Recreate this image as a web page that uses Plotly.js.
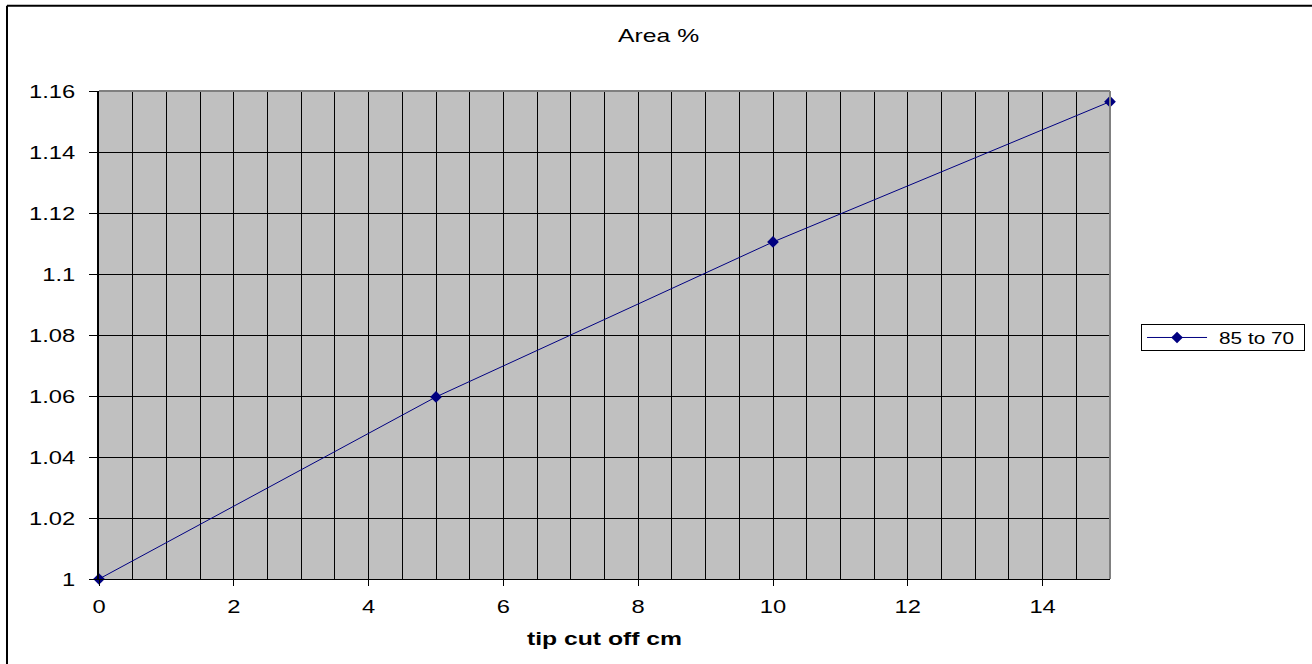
<!DOCTYPE html>
<html>
<head>
<meta charset="utf-8">
<script src="https://cdn.plot.ly/plotly-3.0.1.min.js"></script>
<style>
  html, body { margin: 0; padding: 0; background: #ffffff; }
  #chart { width: 1312px; height: 664px; }
</style>
</head>
<body>
<div id="chart"></div>
<script>
const seriesName = "85 to 70";
const tipCut = [0, 5, 10, 15];
const areaPct = [1.0, 1.0597, 1.1105, 1.1565];
const yTickVals = [1, 1.02, 1.04, 1.06, 1.08, 1.1, 1.12, 1.14, 1.16];
const yTickText = ["1", "1.02", "1.04", "1.06", "1.08", "1.1", "1.12", "1.14", "1.16"];
const xTickVals = [0, 2, 4, 6, 8, 10, 12, 14];
const xTickText = ["0", "2", "4", "6", "8", "10", "12", "14"];

const font = "Liberation Sans, Arial, sans-serif";

const trace = {
  x: tipCut,
  y: areaPct,
  name: seriesName,
  type: "scatter",
  mode: "lines+markers",
  line: { color: "#000080", width: 1 },
  marker: { color: "#000080", symbol: "diamond", size: 9 },
  showlegend: true,
  cliponaxis: false
};

const layout = {
  width: 1312,
  height: 664,
  margin: { l: 99, r: 202, t: 91, b: 85 },
  paper_bgcolor: "#ffffff",
  plot_bgcolor: "#c0c0c0",
  font: { family: font, size: 19, color: "#000000" },
  title: {
    text: "Area %",
    font: { family: font, size: 19, color: "#000000" },
    x: 0.502, xref: "container", xanchor: "center",
    y: 0.947, yref: "container", yanchor: "middle"
  },
  xaxis: {
    range: [0, 15],
    tickvals: xTickVals,
    ticktext: xTickText,
    ticks: "outside",
    ticklen: 6,
    tickcolor: "#000000",
    tickwidth: 1,
    ticklabelstandoff: 4,
    showgrid: true,
    gridcolor: "#000000",
    gridwidth: 1,
    minor: { dtick: 0.5, tick0: 0, showgrid: true, gridcolor: "#000000", gridwidth: 1, ticks: "" },
    showline: true,
    linecolor: "#000000",
    linewidth: 1,
    zeroline: false,
    tickfont: { family: font, size: 19, color: "#000000" },
    title: { text: "<b>tip cut off cm</b>", font: { family: font, size: 19, color: "#000000" }, standoff: 15 },
    fixedrange: true
  },
  yaxis: {
    range: [1, 1.16],
    tickvals: yTickVals,
    ticktext: yTickText,
    ticks: "outside",
    ticklen: 8,
    tickcolor: "#000000",
    tickwidth: 1,
    ticklabelstandoff: 10,
    showgrid: true,
    gridcolor: "#000000",
    gridwidth: 1,
    showline: true,
    linecolor: "#000000",
    linewidth: 2,
    zeroline: false,
    tickfont: { family: font, size: 19, color: "#000000" },
    fixedrange: true
  },
  legend: {
    x: 1.0307, xanchor: "left",
    y: 0.494, yanchor: "middle",
    bgcolor: "#ffffff",
    bordercolor: "#000000",
    borderwidth: 1,
    font: { family: font, size: 17, color: "#000000" },
    itemwidth: 67
  },
  shapes: [
    { type: "line", xref: "paper", yref: "paper", x0: 0, x1: 1, y0: 1, y1: 1,
      line: { color: "#808080", width: 2 } },
    { type: "line", xref: "paper", yref: "paper", x0: 1, x1: 1, y0: 0, y1: 1,
      line: { color: "#808080", width: 2 } },
    { type: "line", xref: "paper", yref: "paper", x0: -0.0910, x1: 1.2008, y0: 1.1749, y1: 1.1749,
      line: { color: "#000000", width: 2 } },
    { type: "line", xref: "paper", yref: "paper", x0: -0.0910, x1: -0.0910, y0: -0.18, y1: 1.1749,
      line: { color: "#000000", width: 2 } },
    { type: "line", xref: "paper", yref: "paper", x0: 1.2008, x1: 1.2008, y0: -0.18, y1: 1.1749,
      line: { color: "#808080", width: 2 } }
  ]
};

function stretchText(root, selector, factor) {
  root.querySelectorAll(selector).forEach(function (t) {
    const len = t.getComputedTextLength();
    if (len > 0) {
      t.setAttribute("textLength", (len * factor).toFixed(1));
      t.setAttribute("lengthAdjust", "spacingAndGlyphs");
    }
  });
}

Plotly.newPlot("chart", [trace], layout, { displayModeBar: false, staticPlot: true }).then(function (gd) {
  stretchText(gd, ".xtick text", 1.25);
  stretchText(gd, ".ytick text", 1.25);
  stretchText(gd, ".gtitle", 1.3);
  stretchText(gd, ".g-xtitle text", 1.3);
  stretchText(gd, ".legend .legendtext", 1.22);
  // let the legend contents overflow the original clip box
  gd.querySelectorAll(".legend .scrollbox, .legend [clip-path]").forEach(function (el) {
    el.removeAttribute("clip-path");
  });
  // widen the legend sample line and centre its marker
  gd.querySelectorAll(".legend .legendlines path").forEach(function (p) {
    p.setAttribute("d", "M5,0h60");
  });
  gd.querySelectorAll(".legend .legendpoints path").forEach(function (p) {
    p.setAttribute("transform", "translate(35,0)");
  });
  // resize the legend box to the reference proportions (keeping its centre)
  const bg = gd.querySelector(".legend rect.bg");
  if (bg) {
    const h = parseFloat(bg.getAttribute("height"));
    const newH = 26;
    bg.setAttribute("width", 163);
    bg.setAttribute("height", newH);
    bg.setAttribute("y", (0.5 + (h - newH) / 2).toFixed(1));
  }
});
</script>
</body>
</html>
